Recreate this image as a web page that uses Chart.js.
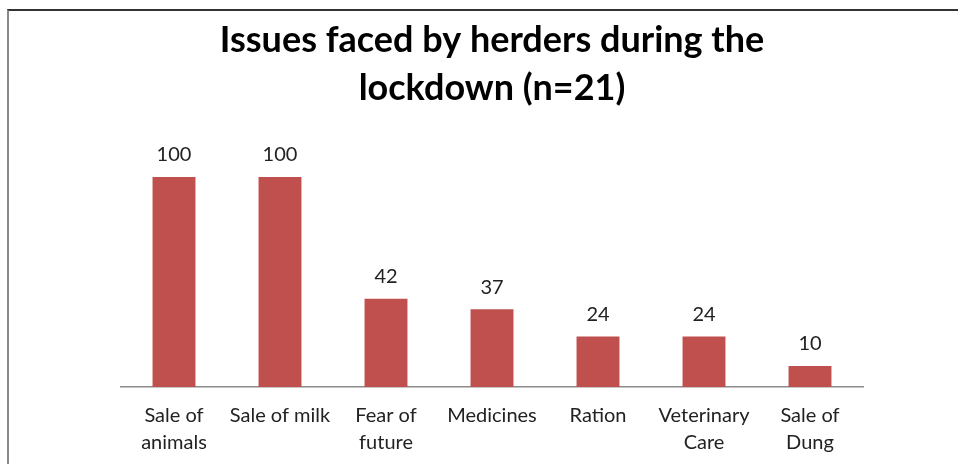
<!DOCTYPE html>
<html>
<head>
<meta charset="utf-8">
<script src="https://cdn.jsdelivr.net/npm/chart.js@4.4.1/dist/chart.umd.min.js"></script>
<style>
  html, body { margin: 0; padding: 0; background: #ffffff; }
  #wrap { position: relative; width: 958px; height: 464px; overflow: hidden; }
  #frame { position: absolute; left: 7px; top: 9px; width: 951px; height: 455px;
           border-top: 2px solid #333; border-left: 2px solid #8a8a8a; box-sizing: border-box; }
  canvas { position: absolute; left: 0; top: 0; }
</style>
</head>
<body>
<div id="wrap">
  <div id="frame"></div>
  <canvas id="c" width="958" height="464"></canvas>
</div>
<script>
const titleLines = ["Issues faced by herders during the", "lockdown (n=21)"];
const categories = [["Sale of", "animals"], "Sale of milk", ["Fear of", "future"], "Medicines", "Ration", ["Veterinary", "Care"], ["Sale of", "Dung"]];
const values = [100, 100, 42, 37, 24, 24, 10];

const valueLabels = {
  id: 'valueLabels',
  afterDatasetsDraw(chart) {
    const ctx = chart.ctx;
    const meta = chart.getDatasetMeta(0);
    ctx.save();
    ctx.font = '20px Lato';
    ctx.fillStyle = '#222222';
    ctx.textAlign = 'center';
    ctx.textBaseline = 'middle';
    meta.data.forEach((bar, i) => {
      ctx.fillText(String(chart.data.datasets[0].data[i]), bar.x, bar.y - 22);
    });
    ctx.restore();
  }
};

new Chart(document.getElementById('c'), {
  type: 'bar',
  data: {
    labels: categories,
    datasets: [{
      data: values,
      backgroundColor: '#C0504D',
      borderWidth: 0,
      categoryPercentage: 1.0,
      barPercentage: 0.405
    }]
  },
  options: {
    responsive: false,
    animation: false,
    events: [],
    layout: { padding: { left: 121, right: 95, top: 0, bottom: 0 } },
    plugins: {
      legend: { display: false },
      tooltip: { enabled: false },
      title: {
        display: true,
        text: titleLines,
        color: '#000000',
        font: { family: 'Lato', size: 36, weight: 'bold', lineHeight: 1.333 },
        padding: { top: 16, bottom: 65 }
      }
    },
    scales: {
      y: { display: false, min: 0, max: 100 },
      x: {
        grid: { display: false, drawTicks: false },
        border: { display: true, color: '#8c8c8c', width: 1.5 },
        ticks: {
          color: '#222222',
          font: { family: 'Lato', size: 20, lineHeight: 1.35 },
          padding: 15,
          maxRotation: 0,
          autoSkip: false
        },
        afterFit(scale) { scale.height = 77; }
      }
    }
  },
  plugins: [valueLabels]
});
</script>
</body>
</html>
